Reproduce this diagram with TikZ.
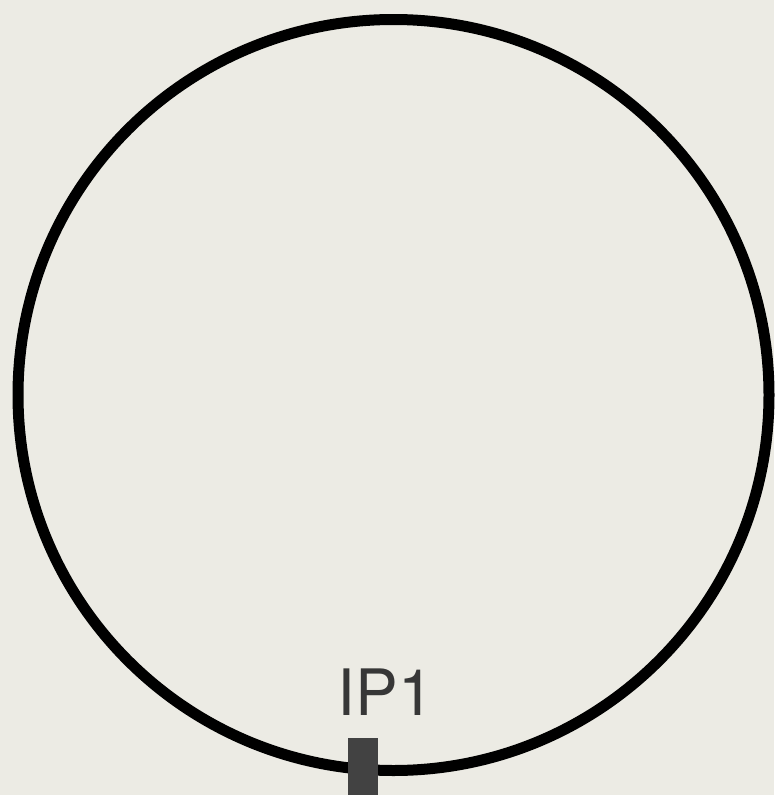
\documentclass[tikz,border=0pt]{standalone}
\usepackage{fontspec}
\setmainfont{TeX Gyre Heros}
\usetikzlibrary{positioning}

\definecolor{paper}{RGB}{236,235,228}
\definecolor{portgray}{RGB}{66,66,66}
\definecolor{inkgray}{RGB}{55,55,55}

\begin{document}
\begin{tikzpicture}[
  x=1pt, y=-1pt,
  ring/.style={draw=black, line width=11pt, circle, inner sep=0pt, minimum size=751pt},
  portbox/.style={fill=portgray, draw=none, inner sep=0pt, minimum width=30pt, minimum height=58pt},
  portlabel/.style={text=inkgray, inner sep=0pt, font=\fontsize{64}{64}\selectfont}
]
\fill[paper] (0,0) rectangle (774,795);
\useasboundingbox (0,0) rectangle (774,795);

\node[ring] (ring) at (393.5,395) {};
\node[portlabel, anchor=base] (ip1) at (386,715) {IP1};
\node[portbox, anchor=north] (port) at (363,738) {};
\end{tikzpicture}
\end{document}
